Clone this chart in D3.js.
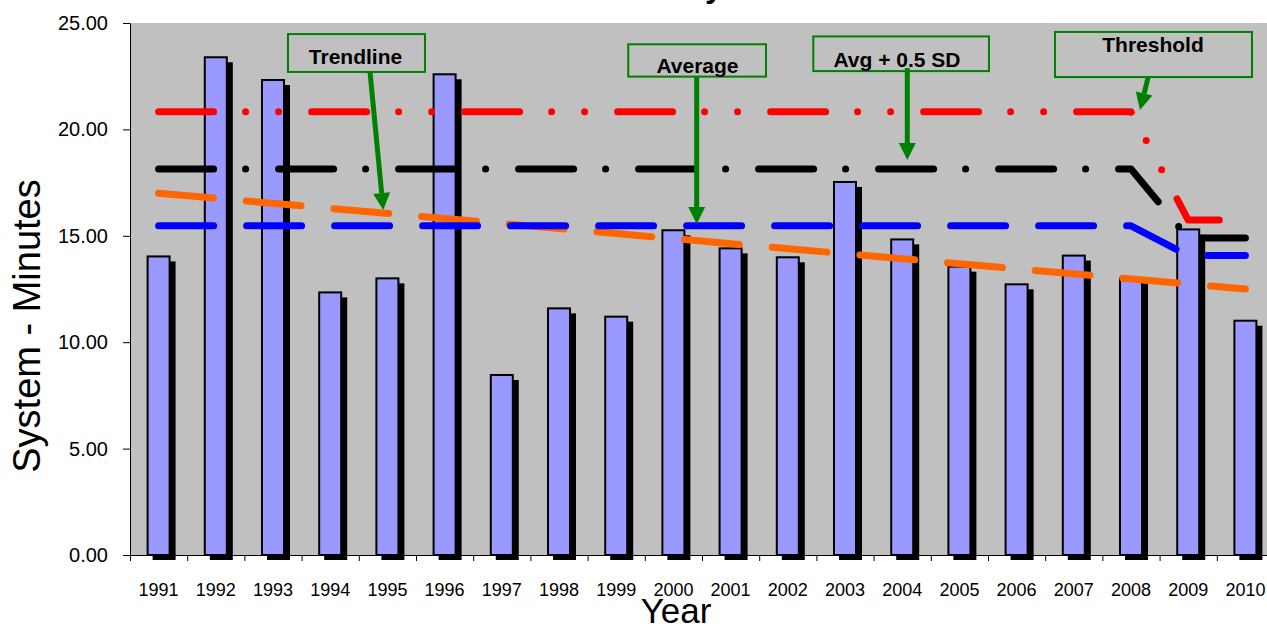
<!DOCTYPE html>
<html>
<head>
<meta charset="utf-8">
<script src="https://cdn.jsdelivr.net/npm/d3@7"></script>
<style>
  body { margin: 0; background: #fff; }
  svg { display: block; font-family: "Liberation Sans", Arial, sans-serif; }
</style>
</head>
<body>
<svg id="chart" width="1267" height="624"></svg>
<script>
// ---- data ----
const years = ["1991", "1992", "1993", "1994", "1995", "1996", "1997", "1998", "1999", "2000",
               "2001", "2002", "2003", "2004", "2005", "2006", "2007", "2008", "2009", "2010"];
const saidi = [14.03, 23.39, 22.32, 12.34, 13.00, 22.59, 8.46, 11.59, 11.20, 15.26,
               14.41, 13.99, 17.53, 14.83, 13.55, 12.72, 14.07, 13.00, 15.30, 11.01];
const average = [15.47, 15.47, 15.47, 15.47, 15.47, 15.47, 15.47, 15.47, 15.47, 15.47,
                 15.47, 15.47, 15.47, 15.47, 15.47, 15.47, 15.47, 15.47, 14.08, 14.08];
const avgHalfSd = [18.14, 18.14, 18.14, 18.14, 18.14, 18.14, 18.14, 18.14, 18.14, 18.14,
                   18.14, 18.14, 18.14, 18.14, 18.14, 18.14, 18.14, 18.14, 14.90, 14.90];
const threshold = [20.83, 20.83, 20.83, 20.83, 20.83, 20.83, 20.83, 20.83, 20.83, 20.83,
                   20.83, 20.83, 20.83, 20.83, 20.83, 20.83, 20.83, 20.83, 15.74, 15.74];
const trendYears = ["1991", "2010"];
const trendValues = [17.0, 12.5];
const yTicks = [0, 5, 10, 15, 20, 25];

// callouts, in band units (x) and minutes (y)
const notes = [
  { label: "Trendline",    box: [2.762, 5.157, 24.48, 22.70], text: [3.942, 23.07], from: [4.196, 22.70], to: [4.428, 16.21] },
  { label: "Average",      box: [8.711, 11.119, 24.00, 22.48], text: [9.921, 22.66], from: [9.907, 22.48], to: [9.907, 15.55] },
  { label: "Avg + 0.5 SD", box: [11.946, 15.017, 24.37, 22.74], text: [13.409, 22.95], from: [13.589, 22.88], to: [13.589, 18.56] },
  { label: "Threshold",    box: [16.171, 19.615, 24.58, 22.46], text: [17.885, 23.62], from: [17.80, 22.46], to: [17.657, 20.91] }
];

const svg = d3.select("#chart");
const margin = { top: 23, left: 130 };
const width = 1144;   // plot runs a little past the right edge, as in the picture
const height = 532;

// partly clipped title at the very top
svg.append("text")
    .attr("x", 695).attr("y", -3)
    .attr("text-anchor", "middle")
    .style("font-size", "32px").style("font-weight", "bold")
    .text("SAIDI by Year");

const g = svg.append("g").attr("transform", `translate(${margin.left},${margin.top})`);

const x = d3.scaleBand().domain(years).range([0, width]);
const xIdx = d3.scaleLinear().domain([0, years.length]).range([0, width]);
const y = d3.scaleLinear().domain([0, 25]).range([height, 0]);
const cx = d => x(d) + x.bandwidth() / 2;

g.append("rect")
    .attr("width", width).attr("height", height)
    .attr("fill", "#c0c0c0");

// bars with offset drop shadow
const barW = 22;
const bars = g.append("g").selectAll("g").data(years).join("g");
bars.append("rect")
    .attr("x", d => cx(d) - barW / 2 + 5)
    .attr("y", (d, i) => y(saidi[i]) + 5)
    .attr("width", barW + 1)
    .attr("height", (d, i) => height - y(saidi[i]))
    .attr("fill", "#000");
bars.append("rect")
    .attr("x", d => cx(d) - barW / 2)
    .attr("y", (d, i) => y(saidi[i]))
    .attr("width", barW)
    .attr("height", (d, i) => height - y(saidi[i]))
    .attr("fill", "#9999ff")
    .attr("stroke", "#000")
    .attr("stroke-width", 2);

// axes
const yAxis = g.append("g")
    .call(d3.axisLeft(y).tickValues(yTicks).tickFormat(d3.format(".2f")).tickSize(7).tickPadding(15).tickSizeOuter(0));
yAxis.selectAll("text").style("font-size", "20px").attr("fill", "#000");

g.append("g")
    .attr("transform", `translate(0,${height})`)
    .call(d3.axisBottom(xIdx).tickValues(d3.range(0, years.length + 1)).tickFormat("").tickSize(6).tickSizeOuter(0));

const xAxis = g.append("g")
    .attr("transform", `translate(0,${height})`)
    .call(d3.axisBottom(x).tickSize(0).tickPadding(28));
xAxis.select(".domain").remove();
xAxis.selectAll("text").style("font-size", "18px").attr("fill", "#000");

// reference lines
const line = d3.line().x(d => cx(d[0])).y(d => y(d[1]));
const series = [
  { vals: trendYears.map((d, i) => [d, trendValues[i]]), color: "#ff6600", dash: "55,33" },
  { vals: years.map((d, i) => [d, average[i]]), color: "#0000ff", dash: "55,33" },
  { vals: years.map((d, i) => [d, avgHalfSd[i]]), color: "#000000", dash: "55,32,0,33" },
  { vals: years.map((d, i) => [d, threshold[i]]), color: "#ff0000", dash: "55,32,0,33,0,33" }
];
g.append("g").selectAll("path").data(series).join("path")
    .attr("d", s => line(s.vals))
    .attr("fill", "none")
    .attr("stroke", s => s.color)
    .attr("stroke-width", 7)
    .attr("stroke-linecap", "round")
    .attr("stroke-linejoin", "round")
    .attr("stroke-dasharray", s => s.dash);

// callout boxes and arrows
const green = "#008000";
const ann = g.append("g").selectAll("g").data(notes).join("g");
ann.append("rect")
    .attr("x", d => xIdx(d.box[0]))
    .attr("y", d => y(d.box[2]))
    .attr("width", d => xIdx(d.box[1]) - xIdx(d.box[0]))
    .attr("height", d => y(d.box[3]) - y(d.box[2]))
    .attr("fill", "none")
    .attr("stroke", green)
    .attr("stroke-width", 2);
ann.append("text")
    .attr("x", d => xIdx(d.text[0]))
    .attr("y", d => y(d.text[1]))
    .attr("text-anchor", "middle")
    .style("font-size", "21px").style("font-weight", "bold")
    .text(d => d.label);
ann.each(function (d) {
    const x0 = xIdx(d.from[0]), y0 = y(d.from[1]);
    const x1 = xIdx(d.to[0]), y1 = y(d.to[1]);
    const len = Math.hypot(x1 - x0, y1 - y0);
    const ux = (x1 - x0) / len, uy = (y1 - y0) / len;
    const head = 17, half = 8.5;
    const bx = x1 - ux * head, by = y1 - uy * head;
    const sel = d3.select(this);
    sel.append("line")
        .attr("x1", x0).attr("y1", y0).attr("x2", bx).attr("y2", by)
        .attr("stroke", green).attr("stroke-width", 5);
    sel.append("path")
        .attr("d", `M${x1},${y1}L${bx - uy * half},${by + ux * half}L${bx + uy * half},${by - ux * half}Z`)
        .attr("fill", green);
});

// axis titles
svg.append("text")
    .attr("transform", `translate(40,326) rotate(-90)`)
    .attr("text-anchor", "middle")
    .style("font-size", "38px")
    .text("System - Minutes");
svg.append("text")
    .attr("x", 676).attr("y", 623)
    .attr("text-anchor", "middle")
    .style("font-size", "35px")
    .text("Year");
</script>
</body>
</html>
